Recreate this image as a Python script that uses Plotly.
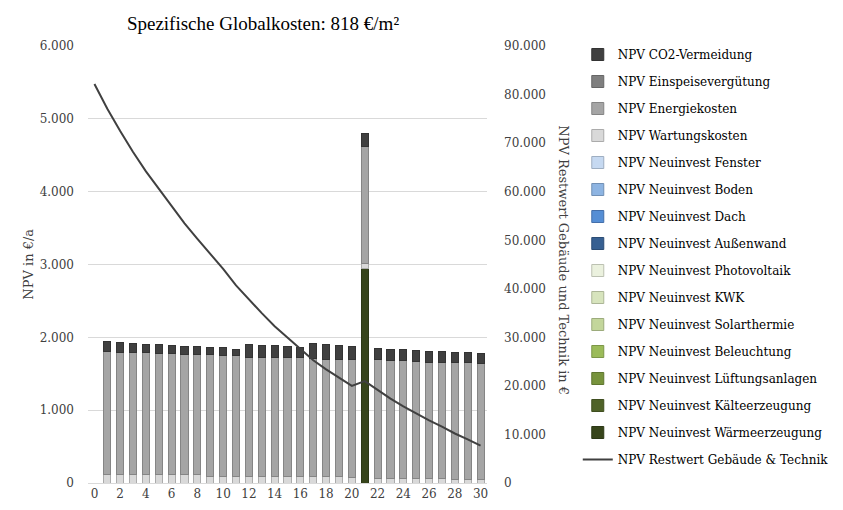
import plotly.graph_objects as go

# Jahre 0..30 (Jahr 0 ohne Balken)
years = list(range(0, 31))

npv_co2 = [None, 134, 133, 129, 114, 128, 115, 110, 110, 96, 110, 91, 174, 156, 156, 152, 138,
           207, 201, 188, 179, 185, 160, 160, 160, 155, 152, 152, 142, 142, 134]
npv_energie = [None, 1688, 1675, 1666, 1676, 1662, 1662, 1649, 1649, 1664, 1650, 1650, 1631, 1631,
               1641, 1632, 1632, 1623, 1614, 1614, 1615, 1608, 1625, 1611, 1611, 1602, 1592, 1592,
               1599, 1599, 1593]
npv_wartung = [None, 120, 120, 120, 110, 110, 110, 110, 110, 95, 95, 95, 95, 95, 85, 85, 85, 85,
               85, 85, 75, 70, 65, 65, 65, 65, 65, 65, 50, 50, 50]
npv_waerme = [None] * 21 + [2940] + [None] * 9
npv_empty = [None] * 31

restwert = [82200, 77100, 72500, 68200, 64200, 60600, 57000, 53500, 50300, 47300, 44100, 40700,
            37800, 35000, 32300, 30000, 27700, 25300, 23400, 21700, 20000, 21000, 19200, 17400,
            15800, 14300, 12900, 11600, 10200, 9000, 7700]

# Stapelreihenfolge von unten nach oben: (Name, Werte, Füllung, Rand)
bar_series = [
    ('NPV Neuinvest Wärmeerzeugung', npv_waerme, '#37451b', '#2c3816'),
    ('NPV Neuinvest Kälteerzeugung', npv_empty, '#4f6228', '#3f4e20'),
    ('NPV Neuinvest Lüftungsanlagen', npv_empty, '#77933c', '#5f7630'),
    ('NPV Neuinvest Beleuchtung', npv_empty, '#9bbb59', '#7c9647'),
    ('NPV Neuinvest Solarthermie', npv_empty, '#c3d69b', '#9cab7c'),
    ('NPV Neuinvest KWK', npv_empty, '#d7e4bd', '#acb697'),
    ('NPV Neuinvest Photovoltaik', npv_empty, '#ebf1de', '#bcc1b2'),
    ('NPV Neuinvest Außenwand', npv_empty, '#376092', '#2c4d75'),
    ('NPV Neuinvest Dach', npv_empty, '#558ed5', '#446faa'),
    ('NPV Neuinvest Boden', npv_empty, '#8db4e2', '#7190b5'),
    ('NPV Neuinvest Fenster', npv_empty, '#c6d9f1', '#9eaec1'),
    ('NPV Wartungskosten', npv_wartung, '#d9d9d9', '#ababab'),
    ('NPV Energiekosten', npv_energie, '#a5a5a5', '#858585'),
    ('NPV Einspeisevergütung', npv_empty, '#7f7f7f', '#666666'),
    ('NPV CO2-Vermeidung', npv_co2, '#404040', '#333333'),
]

serif = 'DejaVu Serif'
fig = go.Figure()

n = len(bar_series)
for i, (name, vals, fill, edge) in enumerate(bar_series):
    fig.add_trace(go.Bar(
        x=years, y=vals, name=name,
        marker=dict(color=fill, line=dict(color=edge, width=1)),
        width=0.55,
        legendrank=n - i,
        legendgroup=name,
    ))

fig.add_trace(go.Scatter(
    x=years, y=restwert, name='NPV Restwert Gebäude & Technik',
    mode='lines', line=dict(color='#404040', width=2),
    yaxis='y2', legendrank=100, legendgroup='restwert',
))

fig.update_layout(
    width=843, height=510,
    barmode='stack',
    separators=',.',
    plot_bgcolor='white', paper_bgcolor='white',
    margin=dict(l=88, r=356, t=46, b=27, autoexpand=False),
    font=dict(family=serif, size=12, color='#404040'),
    title=dict(
        text='Spezifische Globalkosten: 818 €/m²',
        x=263 / 843, xanchor='center', y=1 - 23 / 510, yanchor='middle',
        font=dict(family='Liberation Serif', size=19, color='#000000'),
    ),
    xaxis=dict(
        range=[-0.5, 30.5], tickmode='array', tickvals=list(range(0, 31, 2)),
        showgrid=False, showline=True, linecolor='#d9d9d9', linewidth=1,
        ticks='', tickfont=dict(size=12, color='#404040'), zeroline=False,
        automargin=False,
    ),
    yaxis=dict(
        range=[0, 6002], tickmode='array', tickvals=[0, 1000, 2000, 3000, 4000, 5000, 6000],
        tickformat=',d',
        showgrid=True, gridcolor='#d9d9d9', gridwidth=1, zeroline=False,
        ticks='', tickfont=dict(size=12, color='#404040'),
        automargin=False, ticklabelstandoff=13,
    ),
    yaxis2=dict(
        overlaying='y', side='right', range=[0, 90030], dtick=10000, tickformat=',d',
        showgrid=False, zeroline=False, ticks='',
        tickfont=dict(size=12, color='#404040'),
        automargin=False, ticklabelstandoff=16,
    ),
    legend=dict(
        x=1.2275, xanchor='left', yref='container', y=1 - 40 / 510, yanchor='top',
        traceorder='grouped', tracegroupgap=8, maxheight=480,
        font=dict(size=12, color='#000000'),
        itemwidth=30,
    ),
    annotations=[
        dict(
            text='NPV in €/a',
            xref='paper', yref='paper', x=-0.15, y=0.5,
            xanchor='center', yanchor='middle',
            textangle=-90, showarrow=False,
            font=dict(size=13, color='#404040'),
        ),
        dict(
            text='NPV Restwert Gebäude und Technik in €',
            xref='paper', yref='paper', x=1.1925, y=0.51,
            xanchor='center', yanchor='middle',
            textangle=90, showarrow=False,
            font=dict(size=13, color='#404040'),
        ),
    ],
)

fig.write_html('out.html', config={'displayModeBar': False},
               post_script="document.body.style.margin='0';")
